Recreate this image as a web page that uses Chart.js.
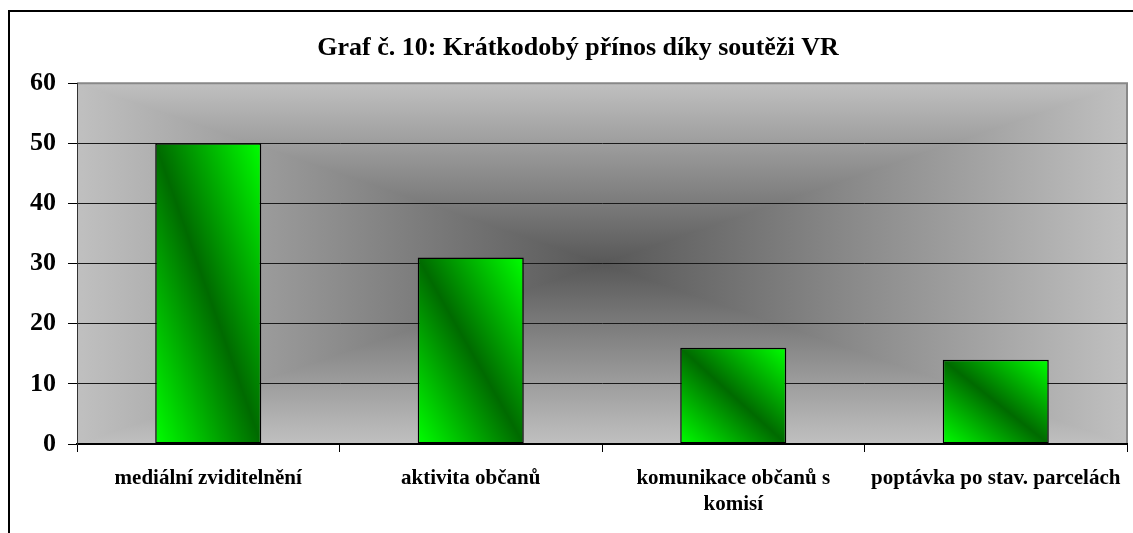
<!DOCTYPE html>
<html lang="cs">
<head>
    <meta charset="UTF-8">
    <title>Graf č. 10</title>
    <script src="https://cdn.jsdelivr.net/npm/chart.js"></script>
    <style>
        body {
            margin: 0;
            padding: 0;
            background: #ffffff;
            overflow: hidden;
            width: 1133px;
            height: 533px;
        }
        /* ramecek grafu (pravy a spodni okraj jsou mimo obraz) */
        .frame {
            position: absolute;
            left: 8px;
            top: 10px;
            width: 2000px;
            height: 2000px;
            border-left: 2px solid #000;
            border-top: 2px solid #000;
        }
        .chart-box {
            position: absolute;
            left: 0;
            top: 0;
            width: 1156px;
            height: 533px;
        }
    </style>
</head>
<body>
    <div class="frame"></div>
    <div class="chart-box">
        <canvas id="graf"></canvas>
    </div>

    <script>
        // Data grafu
        const kategorie = [
            'mediální zviditelnění',
            'aktivita občanů',
            ['komunikace občanů s', 'komisí'],
            'poptávka po stav. parcelách'
        ];
        const hodnoty = [50, 31, 16, 14];
        const osaY = [0, 10, 20, 30, 40, 50, 60];

        const SVETLA = '#00ff00';
        const TMAVA = '#006a00';
        const sirkaSloupce = 0.404;

        // Pozadi plochy: obdelnikovy prechod od stredu (tmavy stred, svetle okraje)
        const pozadiPlugin = {
            id: 'pozadi',
            beforeDraw(chart) {
                const { ctx, chartArea: a } = chart;
                const cx = (a.left + a.right) / 2;
                const cy = (a.top + a.bottom) / 2;
                const okraj = '#c0c0c0';
                const stred = '#585858';
                const trojuhelnik = (pts, x0, y0, x1, y1) => {
                    const g = ctx.createLinearGradient(x0, y0, x1, y1);
                    g.addColorStop(0, okraj);
                    g.addColorStop(1, stred);
                    ctx.beginPath();
                    ctx.moveTo(pts[0][0], pts[0][1]);
                    ctx.lineTo(pts[1][0], pts[1][1]);
                    ctx.lineTo(pts[2][0], pts[2][1]);
                    ctx.closePath();
                    ctx.fillStyle = g;
                    ctx.strokeStyle = g;
                    ctx.lineWidth = 1.5;
                    ctx.fill();
                    ctx.stroke();
                };
                ctx.save();
                ctx.beginPath();
                ctx.rect(a.left, a.top, a.right - a.left, a.bottom - a.top);
                ctx.clip();
                trojuhelnik([[a.left, a.top], [a.right, a.top], [cx, cy]], 0, a.top, 0, cy);
                trojuhelnik([[a.left, a.bottom], [a.right, a.bottom], [cx, cy]], 0, a.bottom, 0, cy);
                trojuhelnik([[a.left, a.top], [a.left, a.bottom], [cx, cy]], a.left, 0, cx, 0);
                trojuhelnik([[a.right, a.top], [a.right, a.bottom], [cx, cy]], a.right, 0, cx, 0);
                ctx.restore();
                // sedy okraj plochy
                ctx.save();
                ctx.strokeStyle = '#888888';
                ctx.lineWidth = 2;
                ctx.beginPath();
                ctx.moveTo(a.left, a.top);
                ctx.lineTo(a.right, a.top);
                ctx.lineTo(a.right, a.bottom);
                ctx.stroke();
                ctx.restore();
            }
        };

        // Diagonalni prechod sloupce (tmavy pruh od leveho horniho do praveho dolniho rohu)
        function barva(c) {
            const chart = c.chart;
            const a = chart.chartArea;
            if (!a || c.dataIndex === undefined) return SVETLA;
            const x = chart.scales.x.getPixelForValue(c.dataIndex);
            const w = (a.right - a.left) / kategorie.length * sirkaSloupce;
            const top = chart.scales.y.getPixelForValue(hodnoty[c.dataIndex]);
            const bottom = chart.scales.y.getPixelForValue(0);
            const h = bottom - top;
            const cy = (top + bottom) / 2;
            const k = (w * h) / (w * w + h * h);
            const g = chart.ctx.createLinearGradient(x - k * h, cy + k * w, x + k * h, cy - k * w);
            g.addColorStop(0, SVETLA);
            g.addColorStop(0.5, TMAVA);
            g.addColorStop(1, SVETLA);
            return g;
        }

        const ctx = document.getElementById('graf').getContext('2d');
        const graf = new Chart(ctx, {
            type: 'bar',
            data: {
                labels: kategorie,
                datasets: [{
                    label: 'Krátkodobý přínos',
                    data: hodnoty,
                    backgroundColor: barva,
                    borderColor: '#000000',
                    borderWidth: 1.5,
                    borderSkipped: false,
                    barPercentage: sirkaSloupce,
                    categoryPercentage: 1
                }]
            },
            options: {
                responsive: true,
                maintainAspectRatio: false,
                animation: false,
                layout: {
                    padding: { left: 29, right: 29, top: 0, bottom: 0 }
                },
                plugins: {
                    legend: { display: false },
                    tooltip: { enabled: false },
                    title: {
                        display: true,
                        text: 'Graf č. 10: Krátkodobý přínos díky soutěži VR',
                        color: '#000',
                        font: { family: 'Liberation Serif', size: 26, weight: 'bold' },
                        padding: { top: 33, bottom: 19 }
                    }
                },
                scales: {
                    x: {
                        offset: true,
                        grid: {
                            offset: true,
                            drawOnChartArea: false,
                            drawTicks: true,
                            tickLength: 8,
                            color: '#000'
                        },
                        border: { color: '#000', width: 2 },
                        ticks: {
                            color: '#000',
                            padding: 13,
                            maxRotation: 0,
                            autoSkip: false,
                            font: { family: 'Liberation Serif', size: 21, weight: 'bold', lineHeight: 1.25 }
                        },
                        afterFit(s) { s.height = 89; }
                    },
                    y: {
                        min: osaY[0],
                        max: osaY[osaY.length - 1],
                        afterBuildTicks(s) { s.ticks = osaY.map(v => ({ value: v })); },
                        grid: {
                            color: (c) => (c.tick && c.tick.value === 60) ? 'rgba(0,0,0,0)' : '#1a1a1a',
                            tickColor: '#000',
                            tickLength: 9,
                            lineWidth: 1
                        },
                        border: { color: '#333', width: 1 },
                        ticks: {
                            color: '#000',
                            padding: 12,
                            font: { family: 'Liberation Serif', size: 26, weight: 'bold' }
                        },
                        afterFit(s) { s.width = 48; }
                    }
                }
            },
            plugins: [pozadiPlugin]
        });
    </script>
</body>
</html>
